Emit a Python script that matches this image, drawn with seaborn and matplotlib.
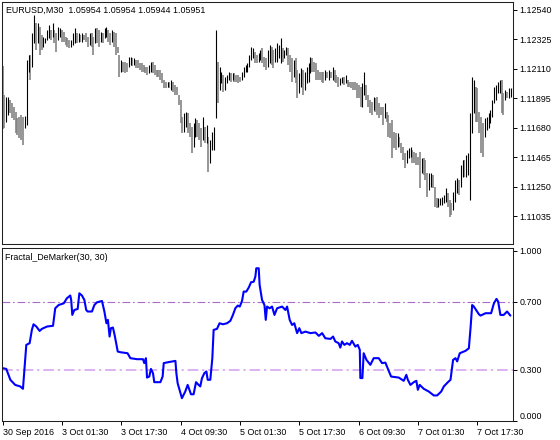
import numpy as np
import pandas as pd
import matplotlib
matplotlib.use("Agg")
import matplotlib.pyplot as plt
import seaborn as sns

# ---------------- data ----------------
title_price = "EURUSD,M30  1.05954 1.05954 1.05944 1.05951"
title_ind = "Fractal_DeMarker(30, 30)"

time_labels = ["30 Sep 2016", "3 Oct 01:30", "3 Oct 17:30", "4 Oct 09:30", "5 Oct 01:30",
               "5 Oct 17:30", "6 Oct 09:30", "7 Oct 01:30", "7 Oct 17:30"]
time_label_bars = [0, 32, 64, 96, 128, 160, 192, 224, 256]

price_ticks = [1.12540, 1.12325, 1.12110, 1.11895, 1.11680, 1.11465, 1.11250, 1.11035]
osc_ticks = [1.0, 0.7, 0.3, 0.0]
osc_levels = [0.7, 0.3]

highs = [
    1.12132, 1.11920, 1.11906, 1.11906, 1.11884, 1.11862, 1.11833, 1.11797, 1.11753, 1.11760,
    1.11775, 1.11760, 1.11767, 1.12176, 1.12212, 1.12212, 1.12372, 1.12504, 1.12445, 1.12445,
    1.12416, 1.12358, 1.12343, 1.12336, 1.12394, 1.12431, 1.12394, 1.12445, 1.12394, 1.12372,
    1.12416, 1.12409, 1.12394, 1.12380, 1.12343, 1.12336, 1.12321, 1.12321, 1.12372, 1.12409,
    1.12372, 1.12372, 1.12358, 1.12372, 1.12358, 1.12372, 1.12343, 1.12372, 1.12372, 1.12343,
    1.12409, 1.12409, 1.12394, 1.12380, 1.12372, 1.12409, 1.12416, 1.12394, 1.12372, 1.12394,
    1.12380, 1.12372, 1.12270, 1.12212, 1.12176, 1.12161, 1.12161, 1.12154, 1.12197, 1.12197,
    1.12190, 1.12190, 1.12176, 1.12176, 1.12154, 1.12154, 1.12139, 1.12125, 1.12125, 1.12139,
    1.12161, 1.12161, 1.12139, 1.12103, 1.12103, 1.12103, 1.12081, 1.12030, 1.12015, 1.12015,
    1.12015, 1.12030, 1.12015, 1.11993, 1.11979, 1.11920, 1.11884, 1.11760, 1.11789, 1.11797,
    1.11789, 1.11716, 1.11687, 1.11716, 1.11753, 1.11738, 1.11716, 1.11680, 1.11760, 1.11687,
    1.11702, 1.11614, 1.11592, 1.11651, 1.11687, 1.12394, 1.12161, 1.12125, 1.12088, 1.12066,
    1.12052, 1.12066, 1.12088, 1.12081, 1.12081, 1.12081, 1.12066, 1.12066, 1.12052, 1.12088,
    1.12125, 1.12139, 1.12154, 1.12212, 1.12270, 1.12263, 1.12234, 1.12212, 1.12227, 1.12249,
    1.12263, 1.12197, 1.12190, 1.12249, 1.12285, 1.12270, 1.12249, 1.12263, 1.12300, 1.12285,
    1.12336, 1.12263, 1.12249, 1.12270, 1.12263, 1.12212, 1.12190, 1.12176, 1.12190, 1.12103,
    1.12081, 1.12117, 1.12103, 1.12088, 1.12125, 1.12154, 1.12197, 1.12190, 1.12161, 1.12154,
    1.12103, 1.12088, 1.12088, 1.12088, 1.12103, 1.12088, 1.12103, 1.12088, 1.12125, 1.12103,
    1.12066, 1.12052, 1.12044, 1.12052, 1.12052, 1.12066, 1.12030, 1.12015, 1.12015, 1.12015,
    1.12015, 1.12008, 1.11993, 1.11979, 1.12008, 1.12088, 1.11993, 1.11920, 1.11884, 1.11869,
    1.11906, 1.11899, 1.11906, 1.11862, 1.11833, 1.11833, 1.11862, 1.11797, 1.11775, 1.11716,
    1.11738, 1.11651, 1.11643, 1.11643, 1.11614, 1.11571, 1.11541, 1.11498, 1.11520, 1.11534,
    1.11541, 1.11520, 1.11505, 1.11498, 1.11468, 1.11505, 1.11461, 1.11461, 1.11447, 1.11352,
    1.11352, 1.11352, 1.11337, 1.11250, 1.11170, 1.11170, 1.11170, 1.11177, 1.11191, 1.11242,
    1.11206, 1.11155, 1.11133, 1.11213, 1.11301, 1.11315, 1.11301, 1.11410, 1.11447, 1.11447,
    1.11483, 1.11498, 1.11789, 1.12052, 1.12030, 1.11979, 1.11971, 1.11797, 1.11760, 1.11716,
    1.11753, 1.11760, 1.11789, 1.11811, 1.11884, 1.11979, 1.11993, 1.12015, 1.12030, 1.12030,
    1.11935, 1.11957, 1.11942, 1.11971, 1.11971,
]

lows = [
    1.11673, 1.11680, 1.11724, 1.11775, 1.11789, 1.11753, 1.11738, 1.11643, 1.11629, 1.11607,
    1.11592, 1.11556, 1.11680, 1.11702, 1.12088, 1.12030, 1.12125, 1.12300, 1.12249, 1.12300,
    1.12212, 1.12249, 1.12270, 1.12300, 1.12321, 1.12336, 1.12321, 1.12343, 1.12300, 1.12234,
    1.12321, 1.12343, 1.12307, 1.12307, 1.12285, 1.12270, 1.12263, 1.12270, 1.12285, 1.12300,
    1.12300, 1.12307, 1.12307, 1.12307, 1.12321, 1.12307, 1.12270, 1.12285, 1.12270, 1.12212,
    1.12300, 1.12300, 1.12270, 1.12307, 1.12300, 1.12336, 1.12343, 1.12307, 1.12285, 1.12307,
    1.12270, 1.12212, 1.12227, 1.12052, 1.12088, 1.12088, 1.12081, 1.12088, 1.12125, 1.12139,
    1.12132, 1.12139, 1.12117, 1.12117, 1.12103, 1.12088, 1.12088, 1.12081, 1.12066, 1.12081,
    1.12088, 1.12081, 1.12066, 1.12052, 1.12052, 1.12030, 1.12008, 1.11971, 1.11971, 1.11979,
    1.11971, 1.11957, 1.11942, 1.11920, 1.11920, 1.11848, 1.11716, 1.11643, 1.11651, 1.11687,
    1.11643, 1.11614, 1.11498, 1.11541, 1.11614, 1.11614, 1.11592, 1.11541, 1.11592, 1.11571,
    1.11571, 1.11359, 1.11425, 1.11520, 1.11520, 1.11753, 1.11862, 1.11957, 1.12008, 1.11942,
    1.11957, 1.12008, 1.12030, 1.12015, 1.12030, 1.12015, 1.12015, 1.12008, 1.12015, 1.12030,
    1.12052, 1.12088, 1.12088, 1.12125, 1.12176, 1.12190, 1.12154, 1.12154, 1.12161, 1.12176,
    1.12154, 1.12125, 1.12103, 1.12125, 1.12154, 1.12139, 1.12117, 1.12161, 1.12161, 1.12190,
    1.12154, 1.12161, 1.12190, 1.12212, 1.12139, 1.12088, 1.12015, 1.12052, 1.12008, 1.11899,
    1.11935, 1.11979, 1.11920, 1.11957, 1.12008, 1.12015, 1.12081, 1.12088, 1.12088, 1.12030,
    1.12030, 1.12030, 1.12015, 1.12008, 1.12030, 1.12044, 1.12030, 1.12044, 1.12030, 1.12015,
    1.12008, 1.11979, 1.11993, 1.12008, 1.11993, 1.12008, 1.11979, 1.11979, 1.11971, 1.11957,
    1.11957, 1.11899, 1.11899, 1.11833, 1.11833, 1.11920, 1.11884, 1.11833, 1.11789, 1.11775,
    1.11811, 1.11797, 1.11775, 1.11753, 1.11775, 1.11702, 1.11753, 1.11724, 1.11614, 1.11607,
    1.11461, 1.11534, 1.11520, 1.11541, 1.11541, 1.11498, 1.11447, 1.11388, 1.11425, 1.11461,
    1.11468, 1.11425, 1.11425, 1.11410, 1.11410, 1.11242, 1.11352, 1.11337, 1.11301, 1.11177,
    1.11228, 1.11250, 1.11242, 1.11104, 1.11097, 1.11104, 1.11119, 1.11119, 1.11133, 1.11140,
    1.11104, 1.11031, 1.11046, 1.11082, 1.11140, 1.11206, 1.11191, 1.11250, 1.11323, 1.11323,
    1.11323, 1.11337, 1.11155, 1.11643, 1.11789, 1.11724, 1.11724, 1.11643, 1.11498, 1.11468,
    1.11614, 1.11665, 1.11680, 1.11716, 1.11760, 1.11862, 1.11884, 1.11935, 1.11935, 1.11789,
    1.11775, 1.11884, 1.11899, 1.11899, 1.11906,
]

ind_bar = [
    0.2, 2, 4.2, 6.8, 9.5, 11, 11.7, 12.8, 14.6, 15.8,
    16.7, 18.2, 20, 21.2, 24, 27.2, 28.4, 30.2, 33, 34.7,
    36.5, 37, 37.6, 38.7, 40.5, 41.4, 42.8, 44.1, 45.1, 45.9,
    48.2, 49.5, 50.9, 53.6, 54.9, 56, 56.8, 57.7, 58.4, 59.5,
    60.4, 62.1, 63.5, 67.4, 68.9, 72.5, 75.7, 76.4, 77.3, 77.9,
    79.1, 80, 81.1, 81.8, 85.1, 86.3, 86.9, 89.6, 93.2, 93.7,
    94.4, 96.7, 98.5, 99.8, 101.6, 103, 104.3, 105.7, 106.6, 107.5,
    108.8, 109.9, 110.6, 112, 113.1, 113.8, 115.6, 117, 118.8, 121,
    122.8, 124.2, 125.5, 126.8, 127.9, 129.1, 130, 131.4, 132.7, 134,
    135.4, 136.3, 136.8, 138.1, 138.6, 139.9, 141.2, 141.9, 142.6, 144,
    145.3, 146.6, 148, 150.7, 152.5, 153.4, 154.8, 156.1, 157.3, 158.8,
    160, 161.1, 163.3, 166, 168.7, 170.5, 172.3, 174, 176.8, 178.2,
    179.4, 181.2, 182.1, 183, 184.3, 185.7, 187.2, 188.4, 190.2, 191.5,
    192.6, 192.9, 194, 194.7, 196.2, 198.3, 200.1, 202.8, 204.6, 206.4,
    208.2, 209.5, 213.6, 216.3, 217.7, 218.5, 219.9, 221.7, 223.1, 223.9,
    224.9, 227.1, 229.8, 232.5, 234.3, 236.5, 237.9, 240.1, 241.5, 242.9,
    244.2, 245.1, 246.5, 249.6, 251.4, 252.3, 253.2, 254.1, 256.8, 257.7,
    260.4, 263.4, 264.9, 266.3, 267.2, 268.4, 270.2, 272, 273.8,
]
ind_val = [
    0.310, 0.306, 0.242, 0.212, 0.203, 0.189, 0.290, 0.447, 0.457, 0.535,
    0.568, 0.555, 0.529, 0.541, 0.555, 0.559, 0.662, 0.681, 0.691, 0.721,
    0.737, 0.711, 0.623, 0.652, 0.658, 0.750, 0.737, 0.711, 0.652, 0.643,
    0.643, 0.681, 0.697, 0.705, 0.643, 0.574, 0.594, 0.496, 0.545, 0.549,
    0.506, 0.408, 0.404, 0.398, 0.369, 0.363, 0.363, 0.340, 0.369, 0.255,
    0.261, 0.306, 0.281, 0.228, 0.228, 0.261, 0.340, 0.346, 0.353, 0.281,
    0.222, 0.134, 0.173, 0.212, 0.157, 0.157, 0.228, 0.212, 0.203, 0.251,
    0.281, 0.291, 0.242, 0.242, 0.369, 0.535, 0.541, 0.574, 0.568, 0.574,
    0.588, 0.623, 0.662, 0.678, 0.672, 0.705, 0.760, 0.760, 0.783, 0.815,
    0.818, 0.848, 0.897, 0.897, 0.799, 0.711, 0.681, 0.594, 0.672, 0.662,
    0.672, 0.623, 0.662, 0.672, 0.652, 0.672, 0.594, 0.564, 0.574, 0.516,
    0.545, 0.516, 0.525, 0.516, 0.520, 0.500, 0.516, 0.486, 0.482, 0.496,
    0.467, 0.457, 0.431, 0.467, 0.447, 0.457, 0.447, 0.471, 0.437, 0.447,
    0.418, 0.252, 0.252, 0.398, 0.359, 0.330, 0.369, 0.369, 0.340, 0.343,
    0.294, 0.261, 0.255, 0.236, 0.271, 0.242, 0.212, 0.228, 0.236, 0.183,
    0.212, 0.189, 0.173, 0.150, 0.150, 0.173, 0.203, 0.228, 0.242, 0.359,
    0.369, 0.350, 0.398, 0.412, 0.427, 0.545, 0.681, 0.672, 0.627, 0.619,
    0.633, 0.633, 0.691, 0.717, 0.701, 0.623, 0.623, 0.643, 0.619,
]

# ---------------- style ----------------
sns.set_theme(style="white")
plt.rcParams['font.family'] = ['Liberation Sans', 'DejaVu Sans']
FS = 6.4
FRAME = '#202020'

fig = plt.figure(figsize=(5.6, 4.4), dpi=100)
fig.patch.set_facecolor('white')
W, H = 560.0, 440.0
ax1 = fig.add_axes([2 / W, 1 - 244 / H, 511 / W, 242 / H])
ax2 = fig.add_axes([2 / W, 1 - 421 / H, 511 / W, 173 / H])

# ---------------- price bars ----------------
df = pd.DataFrame({'bar': np.arange(len(highs)), 'high': highs, 'low': lows})
mid = (df['high'] + df['low']) / 2
df['up'] = mid.diff().fillna(0) > 0
for up, color, lw in [(False, '#7f7f7f', 1.15), (True, '#000000', 0.8)]:
    sub = df[df['up'] == up]
    ax1.vlines(sub['bar'], sub['low'], sub['high'], colors=color, linewidth=lw)

ax1.set_xlim(-0.3, 275.2)
ax1.set_ylim(1.10834, 1.12598)
ax1.set_xticks([])
ax1.set_yticks(price_ticks)
ax1.set_yticklabels([f"{v:.5f}" for v in price_ticks])
ax1.yaxis.tick_right()
ax1.tick_params(axis='y', direction='out', length=3, width=0.7, pad=1.5,
                labelsize=FS, colors='black', right=True, left=False)
ax1.text(4.5 / 511, 1 - 8 / 242, title_price, transform=ax1.transAxes,
         va='center', ha='left', fontsize=FS, color='black')

# ---------------- indicator ----------------
ind = pd.DataFrame({'bar': ind_bar, 'value': ind_val})
for lvl, col, lw in zip(osc_levels, ['#a86cc8', '#d59cf0'], [0.8, 1.1]):
    ax2.axhline(lvl, color=col, linewidth=lw, linestyle=(0, (7, 2.5, 1.5, 2.5)))
sns.lineplot(data=ind, x='bar', y='value', ax=ax2, color='#0000ff', linewidth=1.5,
             sort=False, estimator=None)
ax2.set_xlim(-0.3, 275.2)
ax2.set_ylim(0.0, 1.016)
ax2.set_xlabel('')
ax2.set_ylabel('')
ax2.set_yticks(osc_ticks)
ax2.set_yticklabels([f"{v:.3f}" for v in osc_ticks])
ax2.yaxis.tick_right()
ax2.tick_params(axis='y', direction='out', length=3, width=0.7, pad=1.5,
                labelsize=FS, colors='black', right=True, left=False)
for lab in ax2.get_yticklabels():
    if lab.get_text() == "0.000":
        lab.set_verticalalignment('bottom')
ax2.set_xticks(time_label_bars)
ax2.set_xticklabels(time_labels)
ax2.tick_params(axis='x', direction='out', length=3, width=0.7, pad=2,
                labelsize=FS, colors='black', bottom=True)
for lab in ax2.get_xticklabels():
    lab.set_horizontalalignment('left')
ax2.text(3 / 511, 1 - 9.5 / 173, title_ind, transform=ax2.transAxes,
         va='center', ha='left', fontsize=FS, color='black')

for ax in (ax1, ax2):
    ax.set_facecolor('white')
    ax.grid(False)
    for s in ax.spines.values():
        s.set_visible(True)
        s.set_color(FRAME)
        s.set_linewidth(0.75)

fig.savefig("out.png", dpi=100, facecolor='white')
